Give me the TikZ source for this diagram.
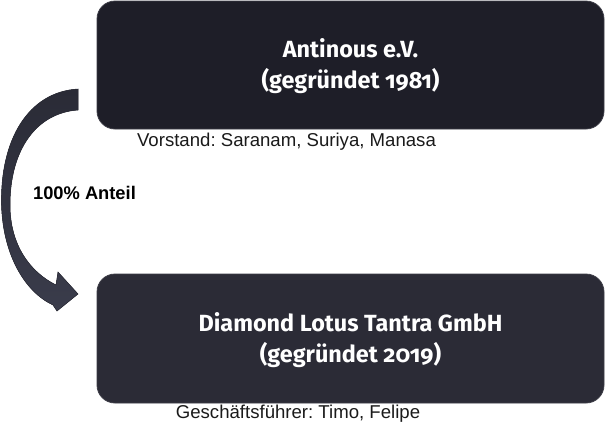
\documentclass[tikz,border=0pt]{standalone}
\usepackage{fontspec}
\setmainfont{Liberation Sans}
\newfontfamily\boxfont[Numbers=OldStyle]{Fira Sans}
\definecolor{boxtop}{HTML}{1E1E28}
\definecolor{boxbot}{HTML}{2B2B36}
\definecolor{boxedge}{HTML}{3C3C46}
\definecolor{arrowA}{HTML}{2A2B36}
\definecolor{arrowB}{HTML}{3A3C4B}
\definecolor{captxt}{HTML}{1A1A1A}
\tikzset{
  orgbox/.style={rounded corners=18pt, draw=boxedge, line width=0.8pt},
  boxtitle/.style={text=white, align=center, font=\boxfont\bfseries\fontsize{23.4}{31}\selectfont},
  caption/.style={text=captxt, font=\frenchspacing\fontsize{18.6}{22}\selectfont},
  sharelabel/.style={text=black, font=\bfseries\fontsize{18.3}{22}\selectfont}
}
\begin{document}
\frenchspacing
\begin{tikzpicture}[x=1pt,y=-1pt]
\useasboundingbox (0,0) rectangle (605,440);
% boxes
\path[orgbox, fill=boxtop] (97,1) rectangle (604,129);
\path[orgbox, fill=boxbot] (97,274) rectangle (604,403);
\node[boxtitle] (antinous) at (350.5,66) {Antinous e.V.\\(gegründet 1981)};
\node[boxtitle] (dlt) at (350.5,340) {Diamond Lotus Tantra GmbH\\(gegründet 2019)};
\node[caption] (vorstand) at (286.5,142) {Vorstand: Saranam, Suriya, Manasa};
\node[caption] (gf) at (298,414) {Geschäftsführer: Timo, Felipe};
\node[sharelabel] (anteil) at (84.5,193) {100\% Anteil};
% curved arrow
\coordinate (tailtop) at (78,89);
\coordinate (tailbot) at (78,110);
\coordinate (tip) at (78,294);
\fill[top color=arrowA, bottom color=arrowB, draw=arrowA, line width=0.5pt]
  (tailtop) .. controls (28,92) and (0,140) .. (1.5,205)
  .. controls (3,255) and (25,292) .. (53,305)
  -- (57,311) -- (tip) -- (58,272) -- (56,285)
  .. controls (30,272) and (10,245) .. (10,205)
  .. controls (10,150) and (36,113) .. (tailbot)
  -- cycle;
\end{tikzpicture}
\end{document}
